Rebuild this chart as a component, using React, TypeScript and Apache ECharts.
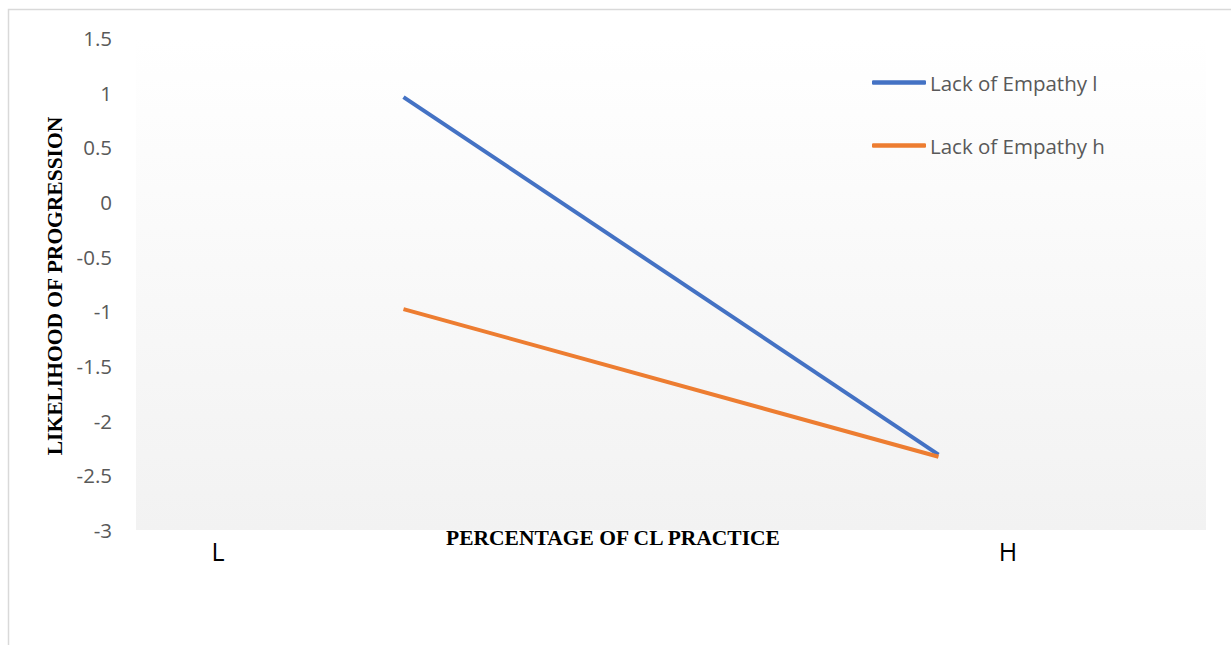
import React, { useEffect, useRef } from "react";
import * as echarts from "echarts";

const categories = ["L", "H"];
const seriesNames = ["Lack of Empathy l", "Lack of Empathy h"];
const empathyLow = [0.96, -2.31];
const empathyHigh = [-0.98, -2.33];
const yTitle = "LIKELIHOOD OF PROGRESSION";
const xTitle = "PERCENTAGE OF CL PRACTICE";

export default function App() {
  const ref = useRef<HTMLDivElement>(null);
  useEffect(() => {
    if (!ref.current) return;
    const chart = echarts.init(ref.current, null, { renderer: "svg" });
    chart.setOption({
      animation: false,
      backgroundColor: "#ffffff",
      grid: { left: 136, right: 25, top: 38, bottom: 115, show: true, borderWidth: 0,
        backgroundColor: new echarts.graphic.LinearGradient(0, 0, 0, 1, [
          { offset: 0, color: "#ffffff" },
          { offset: 1, color: "#f2f2f2" },
        ]) },
      legend: {
        orient: "vertical",
        left: 867,
        top: 67,
        icon: "roundRect",
        itemWidth: 54,
        itemHeight: 4.5,
        itemGap: 42,
        data: seriesNames,
        textStyle: { color: "#595959", fontSize: 20.5, fontFamily: "Open Sans", padding: [0, 0, 0, -1], lineHeight: 20 },
      },
      xAxis: {
        type: "category",
        data: categories,
        boundaryGap: true,
        axisLine: { show: false },
        axisTick: { show: false },
        splitLine: { show: false },
        axisLabel: {
          margin: 8,
          formatter: (v: string) => (v === categories[0] ? "{l|" + v + "}" : "{h|" + v + "}"),
          rich: {
            l: { fontSize: 25, color: "#000000", fontFamily: "Open Sans", padding: [0, 371, 0, 0] },
            h: { fontSize: 25, color: "#000000", fontFamily: "Open Sans", padding: [0, 0, 0, 139] },
          },
        },
      },
      yAxis: {
        type: "value",
        min: -3,
        max: 1.5,
        interval: 0.5,
        axisLine: { show: false },
        axisTick: { show: false },
        splitLine: { show: false },
        axisLabel: { color: "#595959", fontSize: 20.5, fontFamily: "Open Sans", margin: 24 },
      },
      graphic: [
        { type: "rect", shape: { x: 8.5, y: 9.5, width: 1300, height: 700 }, style: { fill: "none", stroke: "#d9d9d9", lineWidth: 1.5 }, z: 10 },
        { type: "text", x: 613, y: 538, style: { text: xTitle, font: "bold 21.5px 'Liberation Serif'", fill: "#000000", textAlign: "center", textVerticalAlign: "middle" }, z: 10 },
        { type: "text", x: 55, y: 286, rotation: Math.PI / 2, style: { text: yTitle, font: "bold 21.5px 'Liberation Serif'", fill: "#000000", textAlign: "center", textVerticalAlign: "middle" }, z: 10 },
      ],
      series: [
        { name: seriesNames[0], type: "line", data: empathyLow, symbol: "none", lineStyle: { color: "#4472C4", width: 4 }, itemStyle: { color: "#4472C4" } },
        { name: seriesNames[1], type: "line", data: empathyHigh, symbol: "none", lineStyle: { color: "#ED7D31", width: 4 }, itemStyle: { color: "#ED7D31" } },
      ],
    });
    return () => chart.dispose();
  }, []);
  return <div ref={ref} style={{ position: "absolute", left: 0, top: 0, width: 1231, height: 645 }} />;
}
